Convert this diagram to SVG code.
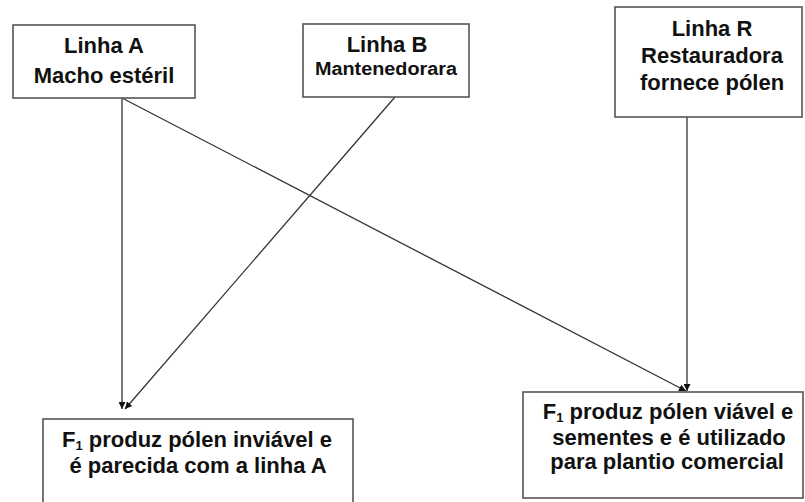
<svg xmlns="http://www.w3.org/2000/svg" width="805" height="502" viewBox="0 0 805 502">
<defs>
<style>
.box{fill:#fff;stroke:#555;stroke-width:1.6}
.t{font-family:"Liberation Sans",Arial,sans-serif;font-weight:bold;font-size:22px;fill:#111;text-anchor:middle}
.sub{font-size:13px}
.c{fill:none;stroke:#333;stroke-width:1.3}
</style>
<marker id="ah" viewBox="0 0 10 10" refX="10" refY="5" markerWidth="9" markerHeight="7" markerUnits="userSpaceOnUse" orient="auto">
<path d="M0,0 L10,5 L0,10 z" fill="#111"/>
</marker>
</defs>
<rect width="805" height="502" fill="#fff"/>
<g id="connectors">
<line class="c" x1="122" y1="98" x2="122" y2="409" marker-end="url(#ah)"/>
<line class="c" x1="395" y1="97" x2="125" y2="409" marker-end="url(#ah)"/>
<line class="c" x1="122" y1="98" x2="686" y2="391" marker-end="url(#ah)"/>
<line class="c" x1="687" y1="117" x2="687" y2="391" marker-end="url(#ah)"/>
</g>
<g id="linhaA">
<rect class="box" x="13" y="25" width="182" height="73"/>
<text class="t" x="104" y="53">Linha A</text>
<text class="t" x="104" y="83">Macho estéril</text>
</g>
<g id="linhaB">
<rect class="box" x="303" y="24" width="166" height="73"/>
<text class="t" x="387" y="52">Linha B</text>
<text class="t" x="386" y="75" style="font-size:18px" textLength="142" lengthAdjust="spacingAndGlyphs">Mantenedorara</text>
</g>
<g id="linhaR">
<rect class="box" x="615" y="7" width="187" height="110"/>
<text class="t" x="712" y="36">Linha R</text>
<text class="t" x="712" y="63">Restauradora</text>
<text class="t" x="712" y="90">fornece pólen</text>
</g>
<g id="f1a">
<rect class="box" x="43" y="419" width="310" height="95"/>
<text class="t" x="197" y="447">F<tspan class="sub" dy="3">1</tspan><tspan dy="-3"> produz pólen inviável e</tspan></text>
<text class="t" x="198" y="473">é parecida com a linha A</text>
</g>
<g id="f1b">
<rect class="box" x="523" y="392" width="280" height="106"/>
<text class="t" x="668" y="419">F<tspan class="sub" dy="3">1</tspan><tspan dy="-3"> produz pólen viável e</tspan></text>
<text class="t" x="669" y="445">sementes e é utilizado</text>
<text class="t" x="667" y="469">para plantio comercial</text>
</g>
</svg>
